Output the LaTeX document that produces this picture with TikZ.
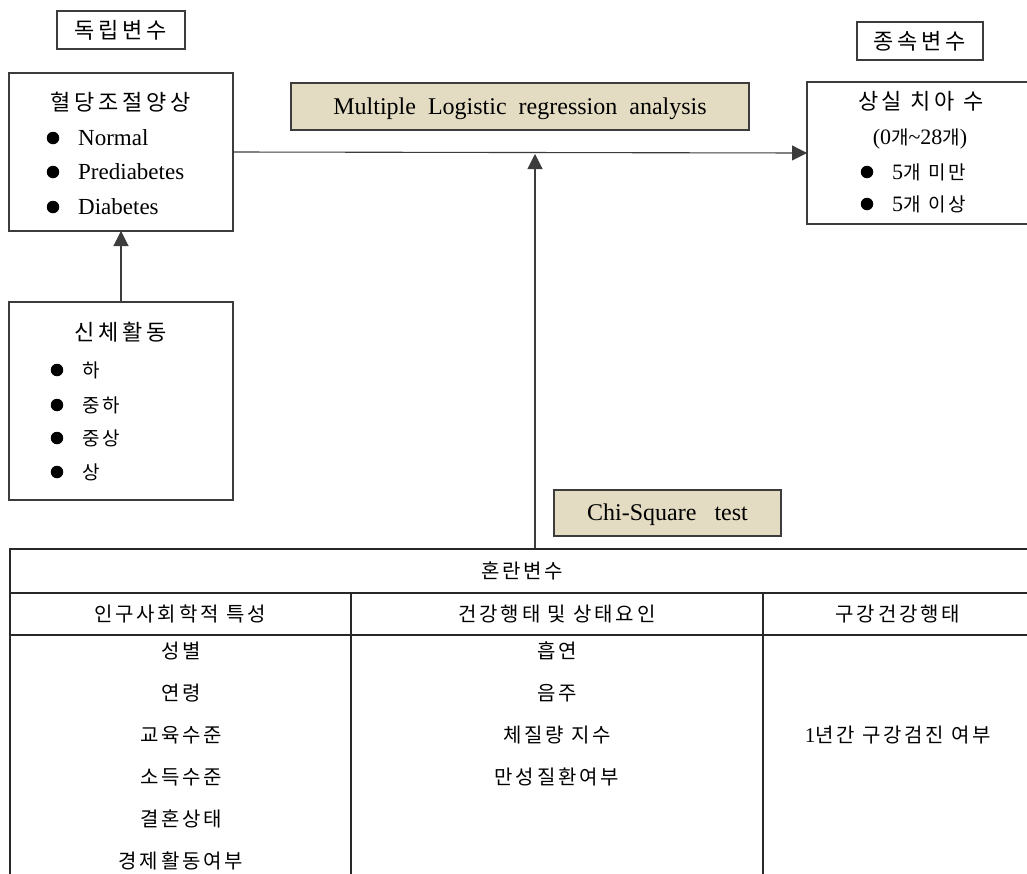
\documentclass[tikz,border=0pt]{standalone}
\usepackage{fontspec}
\setmainfont{Liberation Serif}
\newfontfamily\kr{Noto Sans CJK KR}[LetterSpace=17]
\newfontfamily\krt{Noto Sans CJK KR}[LetterSpace=14]
\usetikzlibrary{arrows.meta}
\definecolor{ln}{RGB}{60,60,60}
\definecolor{tln}{RGB}{40,40,40}
\definecolor{beige}{RGB}{227,220,194}
\begin{document}
\begin{tikzpicture}[x=1pt,y=-1pt,
  box/.style={draw=ln, line width=1.1pt, inner sep=0pt, outer sep=0pt},
  tanbox/.style={box, fill=beige},
  arr/.style={draw=ln, line width=1.1pt, -{Triangle[length=15pt,width=15pt]}},
  tline/.style={draw=tln, line width=1.3pt},
  kh/.style={font=\kr\fontsize{22}{22}\selectfont, text height=16.7pt, text depth=0pt, inner sep=0pt},
  ki/.style={font=\kr\fontsize{19}{19}\selectfont, text height=14.4pt, text depth=0pt, inner sep=0pt, anchor=west},
  kt/.style={font=\krt\fontsize{20}{20}\selectfont, text height=15.2pt, text depth=0pt, inner sep=0pt},
  li/.style={font=\fontsize{23}{23}\selectfont, text height=15.2pt, text depth=0pt, inner sep=0pt, anchor=west},
  lt/.style={font=\fontsize{24}{24}\selectfont, text height=15.9pt, text depth=0pt, inner sep=0pt},
  bul/.style={circle, fill=black, inner sep=0pt, minimum size=12.5pt}
]
\clip (0,0) rectangle (1027,873);
\fill[white] (0,0) rectangle (1027,873);

% labels
\node[box, minimum width=128pt, minimum height=38pt] (indep) at (121,30) {};
\node[kh] (indept) at (indep.center) {독립변수};
\node[box, minimum width=126pt, minimum height=38pt] (depl) at (920,41) {};
\node[kh] (deplt) at (depl.center) {종속변수};

% blood glucose box
\node[box, minimum width=224pt, minimum height=158pt] (glu) at (121,152) {};
\node[kh] (glut) at (121,102) {혈당조절양상};
\node[bul] (gb1) at (53,138) {};
\node[bul] (gb2) at (53,172) {};
\node[bul] (gb3) at (53,207) {};
\node[li] (gi1) at (78,138) {Normal};
\node[li] (gi2) at (78,172) {Prediabetes};
\node[li] (gi3) at (78,207) {Diabetes};

% physical activity box
\node[box, minimum width=224pt, minimum height=198pt] (act) at (121,401) {};
\node[kh] (actt) at (121,332) {신체활동};
\node[bul] (ab1) at (57,370) {};
\node[bul] (ab2) at (57,405) {};
\node[bul] (ab3) at (57,438) {};
\node[bul] (ab4) at (57,472) {};
\node[ki] (ai1) at (82,370) {하};
\node[ki] (ai2) at (82,405) {중하};
\node[ki] (ai3) at (82,438) {중상};
\node[ki] (ai4) at (82,472) {상};

% dependent box
\node[box, minimum width=230pt, minimum height=142pt] (dep) at (922,153) {};
\node[kh] (dept) at (921,101) {상실\ 치아\ 수};
\node[kh] (depr) at (920,136) {{\rmfamily\fontsize{22}{22}\selectfont(0}{\fontsize{19}{19}\selectfont 개}{\rmfamily\fontsize{22}{22}\selectfont\textasciitilde 28}{\fontsize{19}{19}\selectfont 개}{\rmfamily\fontsize{22}{22}\selectfont)}};
\node[bul] (db1) at (867,172) {};
\node[bul] (db2) at (867,204) {};
\node[ki] (di1) at (892,172) {{\rmfamily\fontsize{22}{22}\selectfont 5}개\ 미만};
\node[ki] (di2) at (892,204) {{\rmfamily\fontsize{22}{22}\selectfont 5}개\ 이상};

% analysis boxes
\node[tanbox, minimum width=458pt, minimum height=47pt] (mlr) at (520,106.5) {};
\node[lt] (mlrt) at (mlr.center) {Multiple\ \ Logistic\ \ regression\ \ analysis};
\node[tanbox, minimum width=227pt, minimum height=46pt] (chi) at (667.5,513) {};
\node[lt] (chit) at (chi.center) {Chi-Square\ \ \ test};

% connectors
\draw[arr] (act.north) -- (glu.south);
\draw[arr] (glu.east) -- (dep.west);
\coordinate (ctop) at (535,549);
\coordinate (tip) at (535,154);
\draw[arr] (ctop) -- (tip);

% table
\coordinate (tl) at (10,549);
\draw[tline] (10,880) -- (tl) -- (1040,549);
\draw[tline] (10,593) -- (1040,593);
\draw[tline] (10,635) -- (1040,635);
\draw[tline] (351,593) -- (351,880);
\draw[tline] (763,593) -- (763,880);

\node[kt] (conf) at (522,571) {혼란변수};
\node[kt] (h1) at (180,614) {인구사회학적\ 특성};
\node[kt] (h2) at (557,614) {건강행태\ 및\ 상태요인};
\node[kt] (h3) at (898,614) {구강건강행태};

\node[kt] (c11) at (181,651) {성별};
\node[kt] (c12) at (181,693) {연령};
\node[kt] (c13) at (181,735) {교육수준};
\node[kt] (c14) at (181,777) {소득수준};
\node[kt] (c15) at (181,819) {결혼상태};
\node[kt] (c16) at (181,861) {경제활동여부};

\node[kt] (c21) at (557,651) {흡연};
\node[kt] (c22) at (557,693) {음주};
\node[kt] (c23) at (557,735) {체질량\ 지수};
\node[kt] (c24) at (557,777) {만성질환여부};

\node[kt] (c31) at (898,735) {{\rmfamily\fontsize{21}{21}\selectfont 1}년간\ 구강검진\ 여부};
\end{tikzpicture}
\end{document}
